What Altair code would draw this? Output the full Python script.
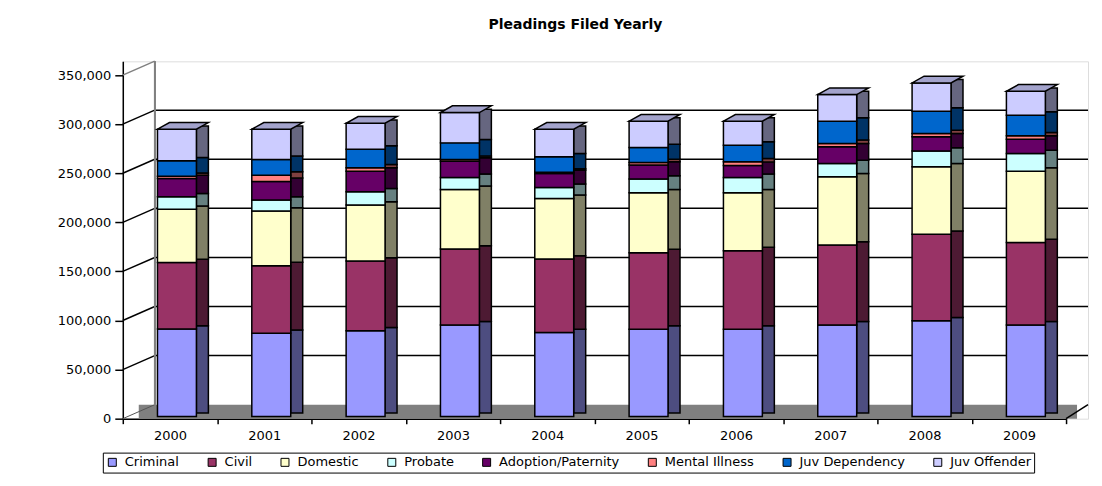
import altair as alt
import pandas as pd

# ---- data ----
years = ["2000", "2001", "2002", "2003", "2004", "2005", "2006", "2007", "2008", "2009"]
categories = ["Criminal", "Civil", "Domestic", "Probate", "Adoption/Paternity",
              "Mental Illness", "Juv Dependency", "Juv Offender"]

criminal = [89000, 84700, 87100, 93200, 85400, 88800, 88800, 93200, 97300, 93200]
civil = [67700, 68800, 71200, 77300, 74900, 78000, 80000, 81400, 88100, 83800]
domestic = [54300, 55600, 56900, 60700, 61700, 61000, 59000, 69500, 68800, 72800]
probate = [12600, 11200, 13600, 12200, 11200, 13900, 15600, 13500, 16000, 18000]
adoption = [18700, 19000, 21000, 16600, 14200, 14300, 12200, 17000, 14600, 14600]
mental = [2200, 6400, 3400, 1700, 1400, 2600, 3700, 3400, 3300, 3400]
juv_dep = [15800, 16000, 19000, 16900, 15600, 15300, 17000, 22700, 22800, 21000]
juv_off = [32200, 30800, 26400, 30900, 28100, 26800, 24400, 27100, 28800, 24400]

y_ticks = [0, 50000, 100000, 150000, 200000, 250000, 300000, 350000]
grid_values = [50000, 100000, 150000, 200000, 250000, 300000]

front_colors = ["#9999FF", "#993366", "#FFFFCC", "#CCFFFF", "#660066",
                "#FF8080", "#0066CC", "#CCCCFF"]
side_colors = ["#4D4D80", "#4D1A33", "#808066", "#668080", "#330033",
               "#804040", "#003366", "#666680"]

series = [criminal, civil, domestic, probate, adoption, mental, juv_dep, juv_off]
rows = []
for i, (cat, vals) in enumerate(zip(categories, series)):
    for y, v in zip(years, vals):
        rows.append({"year": y, "category": cat, "value": v, "idx": i})
df = pd.DataFrame(rows)
grid_df = pd.DataFrame({"v": grid_values})
floor_df = pd.DataFrame({"v": [y_ticks[0]]})
top_df = pd.DataFrame({"v": [y_ticks[-1]]})

FONT = "DejaVu Sans"
W, H = 967, 358
DEPTH_X, DEPTH_Y = 32, 14

xscale = alt.Scale(domain=years, range=[0, 945], paddingInner=0, paddingOuter=0)
yscale = alt.Scale(domain=[0, 364000], nice=False, zero=True)

xaxis = alt.Axis(title=None, labelAngle=0, tickBand="extent", tickSize=5, tickWidth=1.5,
                 tickColor="black", domainColor="black", domainWidth=1.5,
                 labelFont=FONT, labelFontSize=13, labelColor="black", labelPadding=6)
yaxis = alt.Axis(title=None, values=y_ticks, format=",d", grid=False, tickSize=8,
                 tickWidth=1.5, tickColor="black", domainColor="black", domainWidth=1.5,
                 labelFont=FONT, labelFontSize=13, labelColor="black", labelPadding=4)

base = alt.Chart(df)

# floor of the 3-D box
floor = alt.Chart(floor_df).mark_rule(color="#808080", strokeWidth=DEPTH_Y, yOffset=-DEPTH_Y / 2).encode(
    y=alt.Y("v:Q", scale=yscale, axis=yaxis),
    x=alt.value(DEPTH_X / 2),
    x2=alt.value(956),
)

# gridlines on the back wall
grid = alt.Chart(grid_df).mark_rule(color="black", strokeWidth=1.5, yOffset=-DEPTH_Y).encode(
    y=alt.Y("v:Q", scale=yscale, axis=yaxis),
    x=alt.value(DEPTH_X),
    x2=alt.value(W),
)

# slanted gridlines on the left wall
wall_lines = alt.Chart(grid_df).mark_rule(color="black", strokeWidth=1.5, y2Offset=-DEPTH_Y).encode(
    y=alt.Y("v:Q", scale=yscale, axis=yaxis),
    y2="v:Q",
    x=alt.value(0),
    x2=alt.value(DEPTH_X),
)
floor_edge = alt.Chart(floor_df).mark_rule(color="#555555", strokeWidth=1, y2Offset=-DEPTH_Y).encode(
    y=alt.Y("v:Q", scale=yscale, axis=yaxis),
    y2="v:Q",
    x=alt.value(0),
    x2=alt.value(DEPTH_X),
)
floor_edge_right = alt.Chart(floor_df).mark_rule(color="black", strokeWidth=1.5, y2Offset=-DEPTH_Y).encode(
    y=alt.Y("v:Q", scale=yscale, axis=yaxis),
    y2="v:Q",
    x=alt.value(945),
    x2=alt.value(W),
)
top_edge = alt.Chart(top_df).mark_rule(color="#808080", strokeWidth=1.5, y2Offset=-DEPTH_Y).encode(
    y=alt.Y("v:Q", scale=yscale, axis=yaxis),
    y2="v:Q",
    x=alt.value(0),
    x2=alt.value(DEPTH_X),
)

corner = alt.Chart(grid_df).mark_rule(color="#808080", strokeWidth=1.5).encode(
    x=alt.value(DEPTH_X), y=alt.value(0), y2=alt.value(H - DEPTH_Y)
)

side = base.mark_bar(size=12, xOffset=32.5, yOffset=-5.65, stroke="black", strokeWidth=1.5).encode(
    x=alt.X("year:O", sort=years, scale=xscale, axis=xaxis),
    y=alt.Y("value:Q", stack="zero", scale=yscale, axis=yaxis),
    fill=alt.Fill("category:N", scale=alt.Scale(domain=categories, range=side_colors), legend=None),
    order=alt.Order("idx:Q", sort="ascending"),
)

front = base.mark_bar(size=39, xOffset=7, yOffset=-2.3, stroke="black", strokeWidth=1.5).encode(
    x=alt.X("year:O", sort=years, scale=xscale, axis=xaxis),
    y=alt.Y("value:Q", stack="zero", scale=yscale, axis=yaxis),
    fill=alt.Fill("category:N", scale=alt.Scale(domain=categories, range=front_colors),
                  legend=alt.Legend(title=None, orient="none", legendX=-20, legendY=392,
                                    direction="horizontal", columns=8, symbolType="square",
                                    symbolSize=64, symbolStrokeColor="black", symbolStrokeWidth=1,
                                    labelFont=FONT, labelFontSize=13, labelColor="black",
                                    labelOffset=6, columnPadding=26, padding=3,
                                    fillColor="white", strokeColor="black")),
    order=alt.Order("idx:Q", sort="ascending"),
)

cap_path = "M -1 0.131 L 0.529 0.131 L 1 -0.131 L -0.529 -0.131 Z"
caps = base.transform_aggregate(total="sum(value)", groupby=["year"]).mark_point(
    shape=cap_path, size=2601, filled=True, fill="#A3A3CC", stroke="black", strokeWidth=1.5,
    opacity=1, fillOpacity=1, xOffset=13, yOffset=-5.65
).encode(
    x=alt.X("year:O", sort=years, scale=xscale, axis=xaxis),
    y=alt.Y("total:Q", scale=yscale, axis=yaxis),
)

chart = alt.layer(floor, grid, wall_lines, floor_edge, floor_edge_right, top_edge, corner,
                  side, front, caps).resolve_scale(
    fill="independent"
).properties(
    width=W, height=H,
    title=alt.TitleParams("Pleadings Filed Yearly", font=FONT, fontSize=14, fontWeight="bold",
                          color="black", anchor="middle", offset=28, dx=-30),
    padding={"left": 115, "top": 53, "right": 6, "bottom": 56},
    autosize=alt.AutoSizeParams(type="none"),
).configure_view(fill="#C0C0C0", stroke=None).configure(background="white")

chart.save("out.html", embed_options={"renderer": "svg", "actions": False})
